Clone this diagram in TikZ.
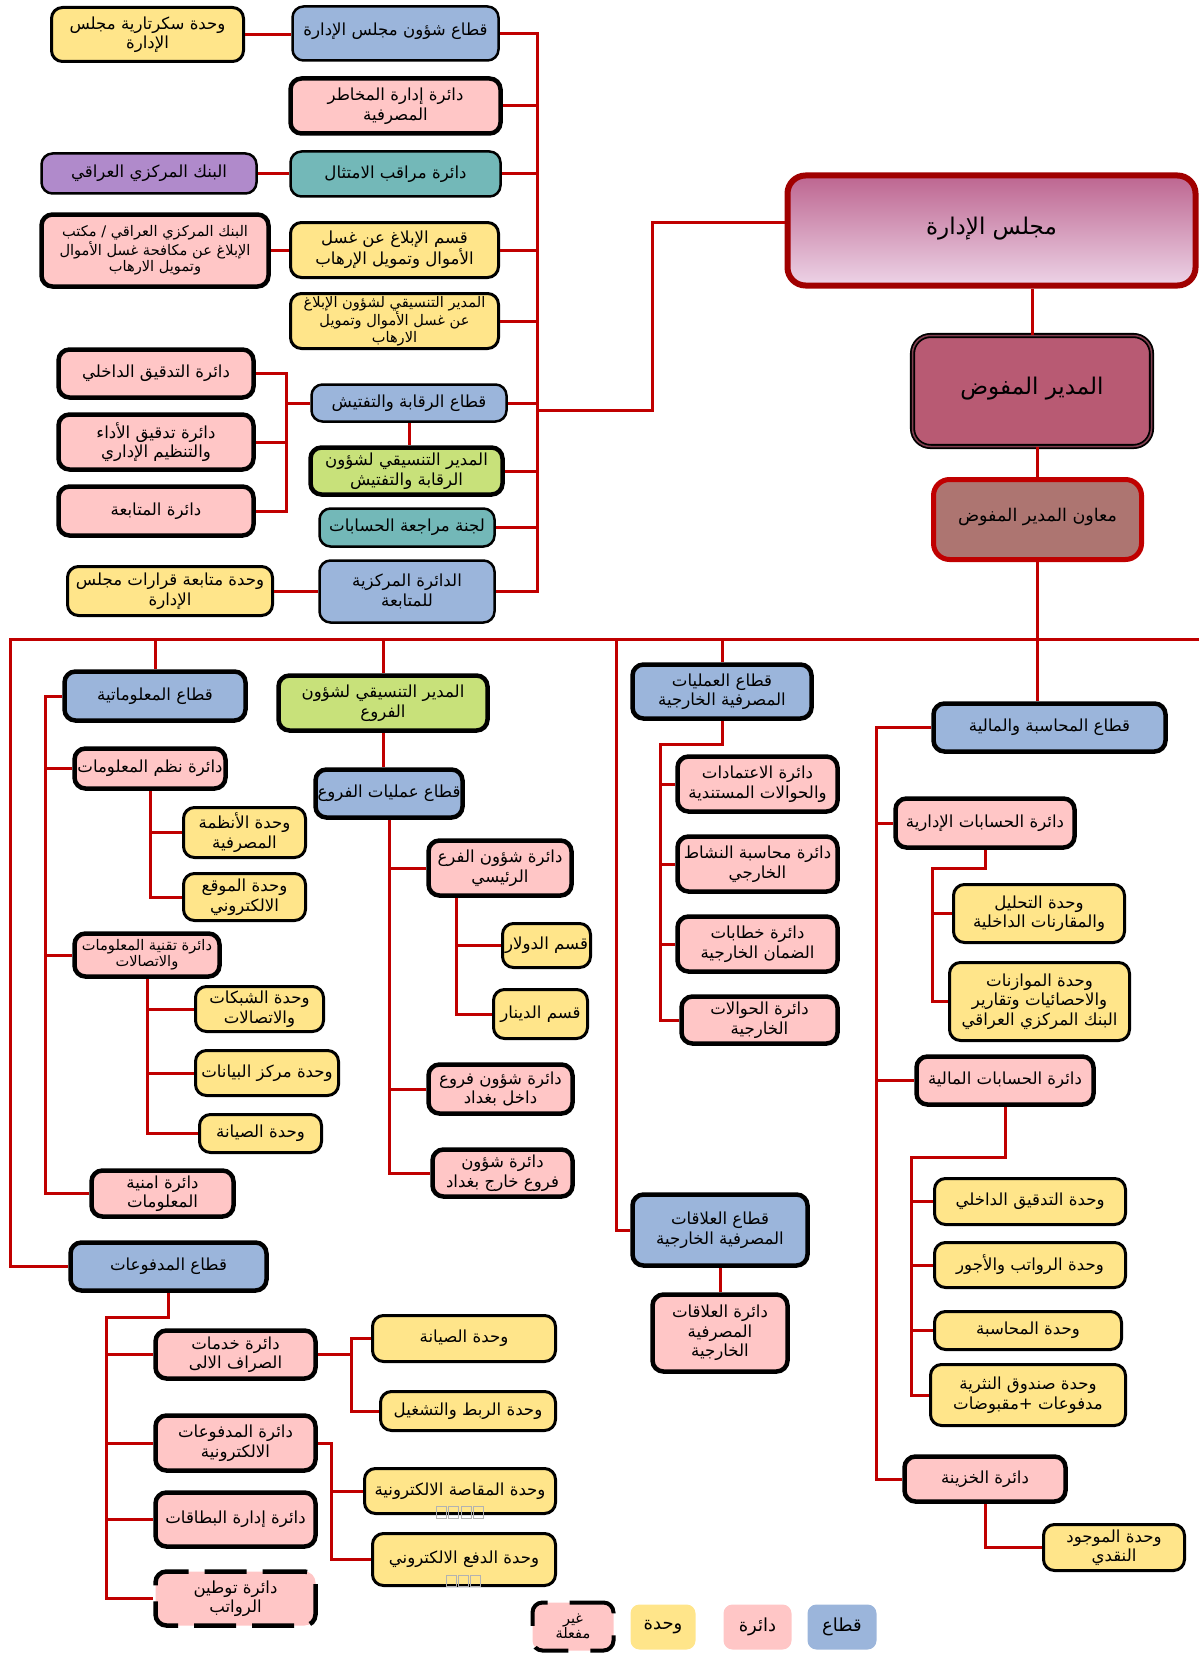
\documentclass[tikz,border=0pt]{standalone}
\usepackage{fontspec}
\newfontfamily\arabicfont[Script=Arabic]{DejaVu Sans}
\TeXXeTstate=1
\definecolor{cblue}{HTML}{9BB5DB}
\definecolor{cpink}{HTML}{FFC6C6}
\definecolor{cyellow}{HTML}{FFE58A}
\definecolor{cteal}{HTML}{73B8B8}
\definecolor{cpurple}{HTML}{B08ACB}
\definecolor{cgreen}{HTML}{C8E17A}
\definecolor{cred}{HTML}{C00000}
\definecolor{cboard}{HTML}{A00000}
\definecolor{cboardtop}{HTML}{BD6690}
\definecolor{cboardbot}{HTML}{EDD3E7}
\definecolor{cmd}{HTML}{B85A73}
\definecolor{casst}{HTML}{AD7571}
\newcommand\AR[1]{\beginR #1\endR}
\newcommand\arf{\arabicfont\fontsize{16.6}{19.5}\selectfont}
\newcommand\arsmall{\arabicfont\fontsize{14.6}{16.2}\selectfont}
\newcommand\bx[7]{\node[#1, minimum width={(#5-#3-3)*1pt}, minimum height={(#6-#4-3)*1pt}] (#2) at ({(#3+#5)/2},{(#4+#6)/2}) {#7};}
\begin{document}
\begin{tikzpicture}[x=1pt,y=-1pt,
 box/.style={rounded corners=11pt, align=center, inner sep=1pt, font=\arf, text=black},
 sector/.style={box, fill=cblue, draw=black, line width=4.5pt},
 sectorthin/.style={box, fill=cblue, draw=black, line width=2.5pt},
 dept/.style={box, fill=cpink, draw=black, line width=4.5pt},
 deptdash/.style={box, fill=cpink, draw=black, line width=4.5pt, dash pattern=on 42pt off 16pt},
 unit/.style={box, fill=cyellow, draw=black, line width=3pt},
 tealbox/.style={box, fill=cteal, draw=black, line width=2.5pt},
 purplebox/.style={box, fill=cpurple, draw=black, line width=2.5pt},
 greenbox/.style={box, fill=cgreen, draw=black, line width=4.5pt},
 boardbox/.style={box, draw=cboard, line width=6pt, top color=cboardtop, bottom color=cboardbot, rounded corners=18pt, font=\arabicfont\fontsize{23}{26}\selectfont},
 mdbox/.style={box, fill=cmd, draw=black, line width=1.8pt, double=cmd!70!black, double distance=1.5pt, rounded corners=18pt, font=\arabicfont\fontsize{23}{26}\selectfont},
 asstbox/.style={box, fill=casst, draw=cred, line width=5pt, rounded corners=16pt, font=\arabicfont\fontsize{17.5}{20}\selectfont},
 legendbox/.style={box, draw=none, rounded corners=9pt, font=\arabicfont\fontsize{18}{20}\selectfont},
 small/.style={font=\arsmall},
 conn/.style={draw=cred, line width=3pt},
 tofu/.style={draw=black!30, line width=0.8pt}
]
\useasboundingbox (0,0) rectangle (1199,1656);

% ---------- upper block ----------
\bx{unit}{sec}{50}{6}{245}{63}{\AR{وحدة سكرتارية مجلس}\\\AR{الإدارة}}
\bx{sectorthin}{bsec}{291}{5}{500}{62}{\raisebox{9pt}{\AR{قطاع شؤون مجلس الإدارة}}}
\bx{dept}{risk}{289}{77}{502}{135}{\AR{دائرة إدارة المخاطر}\\\AR{المصرفية}}
\bx{tealbox}{comp}{289}{150}{502}{198}{\AR{دائرة مراقب الامتثال}}
\bx{purplebox}{cb}{40}{152}{258}{195}{\AR{البنك المركزي العراقي}}
\bx{dept,small}{cbo}{40}{213}{270}{288}{\AR{البنك المركزي العراقي / مكتب}\\\AR{الإبلاغ عن مكافحة غسل الأموال}\\\AR{وتمويل الارهاب}}
\bx{unit}{rsec}{289}{221}{500}{279}{\AR{قسم الإبلاغ عن غسل}\\\AR{الأموال وتمويل الإرهاب}}
\bx{unit,small}{rcoord}{289}{292}{500}{350}{\AR{المدير التنسيقي لشؤون الإبلاغ}\\\AR{عن غسل الأموال وتمويل}\\\AR{الارهاب}}
\bx{dept}{ia}{57}{348}{255}{399}{\AR{دائرة التدقيق الداخلي}}
\bx{dept}{pa}{57}{413}{255}{471}{\AR{دائرة تدقيق الأداء}\\\AR{والتنظيم الإداري}}
\bx{dept}{fu}{57}{485}{255}{537}{\AR{دائرة المتابعة}}
\bx{sectorthin}{supsec}{310}{383}{508}{423}{\AR{قطاع الرقابة والتفتيش}}
\bx{greenbox}{green}{309}{446}{504}{496}{\AR{المدير التنسيقي لشؤون}\\\AR{الرقابة والتفتيش}}
\bx{tealbox}{committee}{318}{507}{496}{548}{\AR{لجنة مراجعة الحسابات}}
\bx{sectorthin}{cfu}{318}{559}{496}{624}{\AR{الدائرة المركزية}\\\AR{للمتابعة}}
\bx{unit}{dfu}{66}{565}{274}{617}{\AR{وحدة متابعة قرارات مجلس}\\\AR{الإدارة}}

% ---------- top management ----------
\bx{boardbox}{board}{786}{174}{1197}{287}{\raisebox{10pt}{\AR{مجلس الإدارة}}}
\bx{mdbox}{md}{911}{334}{1153}{448}{\raisebox{11pt}{\AR{المدير المفوض}}}
\bx{asstbox}{asst}{932}{478}{1143}{561}{\raisebox{9pt}{\AR{معاون المدير المفوض}}}

% ---------- informatics ----------
\bx{sector}{info}{63}{670}{247}{722}{\AR{قطاع المعلوماتية}}
\bx{dept}{isys}{73}{747}{227}{790}{\AR{دائرة نظم المعلومات}}
\bx{unit}{ubank}{182}{806}{307}{859}{\AR{وحدة الأنظمة}\\\AR{المصرفية}}
\bx{unit}{uweb}{182}{872}{307}{922}{\AR{وحدة الموقع}\\\AR{الالكتروني}}
\bx{dept,small}{itc}{73}{932}{221}{978}{\AR{دائرة تقنية المعلومات}\\\AR{والاتصالات}}
\bx{unit}{unet}{194}{985}{325}{1033}{\AR{وحدة الشبكات}\\\AR{والاتصالات}}
\bx{unit}{udata}{194}{1049}{340}{1097}{\AR{وحدة مركز البيانات}}
\bx{unit}{umaint}{198}{1113}{323}{1154}{\AR{وحدة الصيانة}}
\bx{dept}{isec}{90}{1169}{235}{1218}{\AR{دائرة امنية}\\\AR{المعلومات}}

% ---------- branches ----------
\bx{greenbox}{bcoord}{277}{674}{489}{732}{\AR{المدير التنسيقي لشؤون}\\\AR{الفروع}}
\bx{sector}{bops}{314}{768}{464}{819}{\AR{قطاع عمليات الفروع}}
\bx{dept}{mainbr}{427}{839}{573}{897}{\AR{دائرة شؤون الفرع}\\\AR{الرئيسي}}
\bx{unit}{dollar}{501}{922}{592}{969}{\AR{قسم الدولار}}
\bx{unit}{dinar}{492}{988}{589}{1040}{\AR{قسم الدينار}}
\bx{dept}{inb}{427}{1063}{574}{1115}{\AR{دائرة شؤون فروع}\\\AR{داخل بغداد}}
\bx{dept}{outb}{431}{1148}{574}{1198}{\AR{دائرة شؤون}\\\AR{فروع خارج بغداد}}

% ---------- external operations ----------
\bx{sector}{extops}{631}{663}{813}{720}{\AR{قطاع العمليات}\\\AR{المصرفية الخارجية}}
\bx{dept}{lc}{676}{755}{839}{813}{\AR{دائرة الاعتمادات}\\\AR{والحوالات المستندية}}
\bx{dept}{act}{676}{835}{839}{893}{\AR{دائرة محاسبة النشاط}\\\AR{الخارجي}}
\bx{dept}{lg}{676}{915}{839}{973}{\AR{دائرة خطابات}\\\AR{الضمان الخارجية}}
\bx{dept}{fx}{680}{995}{839}{1045}{\AR{دائرة الحوالات}\\\AR{الخارجية}}
\bx{sector}{rel}{631}{1193}{809}{1267}{\AR{قطاع العلاقات}\\\AR{المصرفية الخارجية}}
\bx{dept}{reldep}{651}{1293}{789}{1373}{\AR{دائرة العلاقات}\\\AR{المصرفية}\\\AR{الخارجية}}

% ---------- accounting ----------
\bx{sector}{accsec}{932}{702}{1167}{753}{\AR{قطاع المحاسبة والمالية}}
\bx{dept}{mgmt}{894}{797}{1076}{849}{\AR{دائرة الحسابات الإدارية}}
\bx{unit}{analysis}{952}{883}{1126}{944}{\AR{وحدة التحليل}\\\AR{والمقارنات الداخلية}}
\bx{unit}{budget}{948}{961}{1131}{1042}{\AR{وحدة الموازنات}\\\AR{والاحصائيات وتقارير}\\\AR{البنك المركزي العراقي}}
\bx{dept}{fin}{915}{1055}{1095}{1106}{\AR{دائرة الحسابات المالية}}
\bx{unit}{uia}{933}{1177}{1127}{1226}{\AR{وحدة التدقيق الداخلي}}
\bx{unit}{usal}{933}{1241}{1127}{1289}{\AR{وحدة الرواتب والأجور}}
\bx{unit}{uacc}{933}{1310}{1123}{1351}{\AR{وحدة المحاسبة}}
\bx{unit}{upetty}{929}{1363}{1127}{1427}{\AR{وحدة صندوق النثرية}\\\AR{مدفوعات +مقبوضات}}
\bx{dept}{treas}{903}{1455}{1067}{1503}{\AR{دائرة الخزينة}}
\bx{unit}{cash}{1042}{1523}{1186}{1572}{\AR{وحدة الموجود}\\\AR{النقدي}}

% ---------- payments ----------
\bx{sector}{pay}{69}{1241}{268}{1292}{\AR{قطاع المدفوعات}}
\bx{dept}{atm}{154}{1329}{317}{1380}{\AR{دائرة خدمات}\\\AR{الصراف الالى}}
\bx{dept}{epay}{154}{1414}{317}{1472}{\AR{دائرة المدفوعات}\\\AR{الالكترونية}}
\bx{dept}{cards}{154}{1491}{317}{1548}{\AR{دائرة إدارة البطاقات}}
\bx{deptdash}{salary}{154}{1570}{317}{1627}{\AR{دائرة توطين}\\\AR{الرواتب}}
\bx{unit}{maint2}{371}{1314}{557}{1363}{\AR{وحدة الصيانة}}
\bx{unit}{link}{379}{1390}{557}{1432}{\AR{وحدة الربط والتشغيل}}
\bx{unit}{clear}{363}{1467}{557}{1515}{\AR{وحدة المقاصة الالكترونية}}
\bx{unit}{edpay}{371}{1532}{557}{1587}{\AR{وحدة الدفع الالكتروني}}
\foreach \i in {0,...,3} \draw[tofu] ({436+\i*12.5},1506) rectangle ++(10,12);
\foreach \i in {0,1,2} \draw[tofu] ({446+\i*12},1575) rectangle ++(10,11);

% ---------- legend ----------
\bx{deptdash,line width=4pt,dash pattern=on 34pt off 22pt,rounded corners=10pt,font=\arabicfont\fontsize{14.5}{14}\selectfont}{loff}{531}{1601}{615}{1652}{\AR{غير}\\\AR{مفعلة}}
\bx{legendbox,fill=cyellow}{lunit}{629}{1603}{697}{1651}{\AR{وحدة}}
\bx{legendbox,fill=cpink}{ldept}{722}{1603}{793}{1651}{\AR{دائرة}}
\bx{legendbox,fill=cblue}{lsec}{806}{1603}{878}{1651}{\AR{قطاع}}

% ---------- connectors: upper block ----------
\coordinate (T) at (537,0);
\draw[conn] (bsec.east) -- (bsec.east -| T) -- (cfu.east -| T) -- (cfu.east);
\foreach \n in {risk,comp,rsec,rcoord,supsec,green,committee} \draw[conn] (\n.east) -- (\n.east -| T);
\draw[conn] (sec.east) -- (sec.east -| bsec.west);
\draw[conn] (cb.east) -- (cb.east -| comp.west);
\draw[conn] (cbo.east) -- (cbo.east -| rsec.west);
\draw[conn] (dfu.east) -- (dfu.east -| cfu.west);
\coordinate (B) at (286,0);
\draw[conn] (ia.east) -- (ia.east -| B) -- (fu.east -| B) -- (fu.east);
\draw[conn] (pa.east) -- (pa.east -| B);
\draw[conn] (supsec.west) -- (supsec.west -| B);
\draw[conn] (supsec.south) -- (supsec.south |- green.north);

% ---------- connectors: management ----------
\coordinate (J) at (537,410);
\coordinate (K) at (652,222);
\draw[conn] (J) -| (K) -- (K -| board.west);
\draw[conn] (md.north) -- (md.north |- board.south);
\draw[conn] (asst.north) -- (asst.north |- md.south);
\draw[conn] (asst.south) -- (asst.south |- accsec.north);

% ---------- bus ----------
\coordinate (BL) at (10,639);
\coordinate (BR) at (1199,639);
\draw[conn] (BR) -- (BL) -- (BL |- pay.west) -- (pay.west);
\draw[conn] (info.north) -- (info.north |- BL);
\draw[conn] (bcoord.north) -- (bcoord.north |- BL);
\draw[conn] (extops.north) -- (extops.north |- BL);
\coordinate (R) at (616,639);
\draw[conn] (R) |- (rel.west);

% informatics tree
\coordinate (I) at (45,0);
\draw[conn] (info.west) -- (info.west -| I) -- (isec.west -| I) -- (isec.west);
\draw[conn] (isys.west) -- (isys.west -| I);
\draw[conn] (itc.west) -- (itc.west -| I);
\draw[conn] (isys.south) -- (isys.south |- uweb.west) -- (uweb.west);
\draw[conn] (ubank.west) -- (ubank.west -| isys.south);
\draw[conn] (itc.south) -- (itc.south |- umaint.west) -- (umaint.west);
\draw[conn] (unet.west) -- (unet.west -| itc.south);
\draw[conn] (udata.west) -- (udata.west -| itc.south);

% branches tree
\draw[conn] (bcoord.south) -- (bcoord.south |- bops.north);
\draw[conn] (bops.south) -- (bops.south |- outb.west) -- (outb.west);
\draw[conn] (mainbr.west) -- (mainbr.west -| bops.south);
\draw[conn] (inb.west) -- (inb.west -| bops.south);
\coordinate (M) at (456,0);
\draw[conn] (mainbr.south -| M) -- (dinar.west -| M) -- (dinar.west);
\draw[conn] (dollar.west) -- (dollar.west -| M);

% external operations tree
\coordinate (E) at (660,744);
\draw[conn] (extops.south) |- (E) -- (E |- fx.west) -- (fx.west);
\draw[conn] (lc.west) -- (lc.west -| E);
\draw[conn] (act.west) -- (act.west -| E);
\draw[conn] (lg.west) -- (lg.west -| E);
\draw[conn] (rel.south) -- (reldep.north);

% accounting tree
\coordinate (C) at (876,0);
\draw[conn] (accsec.west) -- (accsec.west -| C) -- (treas.west -| C) -- (treas.west);
\draw[conn] (mgmt.west) -- (mgmt.west -| C);
\draw[conn] (fin.west) -- (fin.west -| C);
\coordinate (G) at (932,868);
\draw[conn] (mgmt.south) |- (G) -- (G |- budget.west) -- (budget.west);
\draw[conn] (analysis.west) -- (analysis.west -| G);
\coordinate (F) at (911,1157);
\draw[conn] (fin.south) |- (F) -- (F |- upetty.west) -- (upetty.west);
\draw[conn] (uia.west) -- (uia.west -| F);
\draw[conn] (usal.west) -- (usal.west -| F);
\draw[conn] (uacc.west) -- (uacc.west -| F);
\draw[conn] (treas.south) |- (cash.west);

% payments tree
\coordinate (Q) at (106,1317);
\draw[conn] (pay.south) |- (Q) -- (Q |- salary.west) -- (salary.west);
\draw[conn] (atm.west) -- (atm.west -| Q);
\draw[conn] (epay.west) -- (epay.west -| Q);
\draw[conn] (cards.west) -- (cards.west -| Q);
\coordinate (A) at (351,0);
\draw[conn] (atm.east) -- (atm.east -| A);
\draw[conn] (maint2.west) -- (maint2.west -| A) -- (link.west -| A) -- (link.west);
\coordinate (P) at (331,0);
\draw[conn] (epay.east) -- (epay.east -| P) -- (edpay.west -| P) -- (edpay.west);
\draw[conn] (clear.west) -- (clear.west -| P);
\end{tikzpicture}
\end{document}
